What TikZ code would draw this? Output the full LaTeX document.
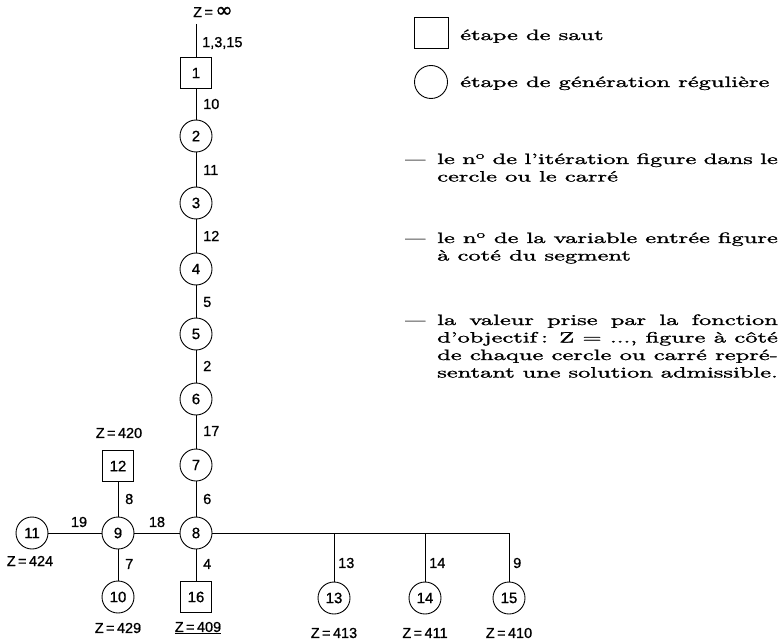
\documentclass[tikz,border=0pt]{standalone}
\usepackage{fontspec}
\usepackage{graphicx}
\newfontfamily\treefont[FakeBold=0.8]{Liberation Sans}
\newfontfamily\symfont[FakeBold=1]{DejaVu Sans}
\newfontfamily\legfont[Ligatures=TeX,FakeBold=1.2]{lmroman10-regular.otf}
\newcommand\legline[1]{\scalebox{1.63}[1]{\legfont\fontsize{15}{17.5}\selectfont #1}}
\newcommand\legpar[1]{\scalebox{1.63}[1]{\parbox[t]{209pt}{\legfont\fontsize{15}{17.5}\selectfont #1}}}
\newcommand\jl[1]{\makebox[\linewidth][s]{#1}}
\begin{document}
\begin{tikzpicture}[x=1pt,y=-1pt,
  circ/.style={circle,draw,line width=0.9pt,minimum size=32pt,inner sep=0pt,font=\treefont\fontsize{15}{15}\selectfont},
  sq/.style={rectangle,draw,line width=0.9pt,minimum width=31pt,minimum height=31pt,inner sep=0pt,font=\treefont\fontsize{15}{15}\selectfont},
  lbl/.style={font=\treefont\fontsize{14.5}{15}\selectfont,inner sep=0pt},
  elbl/.style={lbl,anchor=west},
  edge/.style={line width=0.8pt},
  leg/.style={inner sep=0pt,anchor=base west}
]
\useasboundingbox (0,0) rectangle (781,644);
% main column
\node[lbl] (zinf) at (213,12) {Z\,=\,{\symfont\fontsize{21}{21}\selectfont ∞}};
\coordinate (top) at (196,24);
\node[sq] (n1) at (196,73) {1};
\node[circ] (n2) at (196,136) {2};
\node[circ] (n3) at (196,203) {3};
\node[circ] (n4) at (196,269) {4};
\node[circ] (n5) at (196,334) {5};
\node[circ] (n6) at (196,399) {6};
\node[circ] (n7) at (196,465) {7};
\node[circ] (n8) at (196,533) {8};
\node[sq] (n16) at (196,597) {16};
% left part
\node[circ] (n9) at (118,533) {9};
\node[circ] (n11) at (32,533) {11};
\node[circ] (n10) at (118,597) {10};
\node[sq] (n12) at (118,466) {12};
% right part
\node[circ] (n13) at (334,598) {13};
\node[circ] (n14) at (425,598) {14};
\node[circ] (n15) at (509,598) {15};
\coordinate (c13) at (334,533);
\coordinate (c14) at (425,533);
\coordinate (c15) at (509,533);
% connectors
\draw[edge] (top) -- (n1);
\draw[edge] (n1) -- (n2);
\draw[edge] (n2) -- (n3);
\draw[edge] (n3) -- (n4);
\draw[edge] (n4) -- (n5);
\draw[edge] (n5) -- (n6);
\draw[edge] (n6) -- (n7);
\draw[edge] (n7) -- (n8);
\draw[edge] (n8) -- (n16);
\draw[edge] (n9) -- (n8);
\draw[edge] (n11) -- (n9);
\draw[edge] (n12) -- (n9);
\draw[edge] (n9) -- (n10);
\draw[edge] (n8.east) -- (c15) -- (n15);
\draw[edge] (c13) -- (n13);
\draw[edge] (c14) -- (n14);
% edge labels
\node[elbl] (l0) at (202,43) {1,3,15};
\node[elbl] (l1) at (203,104) {10};
\node[elbl] (l2) at (203,170) {11};
\node[elbl] (l3) at (203,236) {12};
\node[elbl] (l4) at (203,302) {5};
\node[elbl] (l5) at (203,366) {2};
\node[elbl] (l6) at (203,431) {17};
\node[elbl] (l7) at (203,499) {6};
\node[elbl] (l8) at (203,564) {4};
\node[elbl] (l9) at (125,499) {8};
\node[elbl] (l10) at (125,564) {7};
\node[lbl] (l11) at (79,522) {19};
\node[lbl] (l12) at (157,522) {18};
\node[elbl] (l13) at (338,563) {13};
\node[elbl] (l14) at (429,563) {14};
\node[elbl] (l15) at (513,563) {9};
% objective values
\node[lbl] (z12) at (119,433) {Z\,=\,420};
\node[lbl] (z11) at (30,561) {Z\,=\,424};
\node[lbl] (z10) at (118,628) {Z\,=\,429};
\node[lbl] (z16) at (198,628) {\underline{Z\,=\,409}};
\node[lbl] (z13) at (334,633) {Z\,=\,413};
\node[lbl] (z14) at (425,633) {Z\,=\,411};
\node[lbl] (z15) at (509,633) {Z\,=\,410};
% legend
\node[sq,minimum width=34pt,minimum height=31pt] (ls) at (431,33) {};
\node[circ,minimum size=33pt] (lc) at (431,82) {};
\node[leg] (t1) at (460,40) {\legline{étape de saut}};
\node[leg] (t2) at (460,87) {\legline{étape de génération régulière}};
\node[leg] (d1) at (405,164) {\scalebox{1.35}[1]{\legfont\fontsize{15}{17.5}\selectfont —}};
\node[leg] (p1) at (437,164) {\legpar{\jl{le n\textsuperscript{o} de l'itération figure dans le}\\cercle ou le carré}};
\node[leg] (d2) at (405,243) {\scalebox{1.35}[1]{\legfont\fontsize{15}{17.5}\selectfont —}};
\node[leg] (p2) at (437,243) {\legpar{\jl{le n\textsuperscript{o} de la variable entrée figure}\\à coté du segment}};
\node[leg] (d3) at (405,325) {\scalebox{1.35}[1]{\legfont\fontsize{15}{17.5}\selectfont —}};
\node[leg] (p3) at (437,325) {\legpar{\jl{la valeur prise par la fonction}\\\jl{d'objectif\,: Z = ..., figure à côté}\\\jl{de chaque cercle ou carré repré-}\\\jl{sentant une solution admissible.}}};
\end{tikzpicture}
\end{document}
